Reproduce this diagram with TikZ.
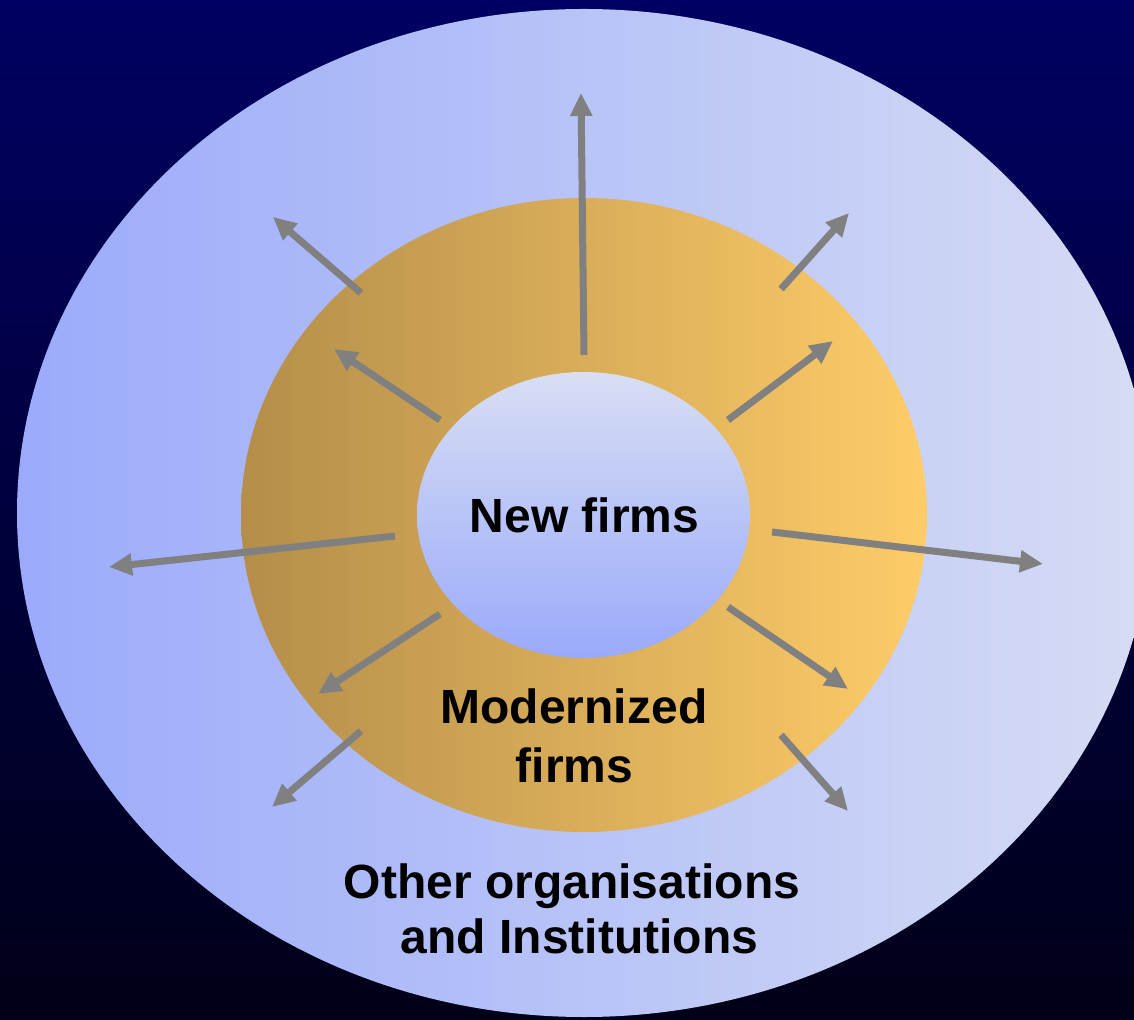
\documentclass[tikz,border=0pt]{standalone}
\usepackage{fontspec}
\setmainfont{Liberation Sans}
\usetikzlibrary{shapes.geometric,arrows.meta}
\definecolor{bgtop}{RGB}{0,0,98}
\definecolor{bgbot}{RGB}{0,0,24}
\definecolor{outL}{RGB}{155,171,250}
\definecolor{outR}{RGB}{214,220,244}
\definecolor{orL}{RGB}{180,142,74}
\definecolor{orR}{RGB}{254,204,104}
\definecolor{inT}{RGB}{216,222,244}
\definecolor{inB}{RGB}{154,170,250}
\definecolor{arrgray}{RGB}{128,128,128}
\begin{document}
\begin{tikzpicture}[x=0.5pt,y=-0.5pt,
  blob/.style={ellipse, draw=none, inner sep=0pt, outer sep=0pt},
  lbl/.style={anchor=base, inner sep=0pt, text=black, font=\fontsize{24}{29}\selectfont\bfseries},
  outarrow/.style={draw=arrgray, line width=3.5pt, -{Triangle[length=11.5pt,width=10.5pt]}}]
\useasboundingbox (0,0) rectangle (1134,1020);
\clip (0,0) rectangle (1134,1020);
\shade[top color=bgtop, bottom color=bgbot] (0,0) rectangle (1134,1020);
% ellipses
\node[blob, minimum width=567pt, minimum height=504pt, left color=outL, right color=outR] (outer) at (584,513) {};
\node[blob, minimum width=343pt, minimum height=317pt, left color=orL, right color=orR] (modern) at (584,515) {};
\node[blob, minimum width=166.5pt, minimum height=143pt, top color=inT, bottom color=inB] (inner) at (583.5,515) {};
% arrow end points
\coordinate (a1s) at (584,355);  \coordinate (a1e) at (581,93);
\coordinate (a2s) at (361,293);  \coordinate (a2e) at (273,217);
\coordinate (a3s) at (781,289);  \coordinate (a3e) at (849,213);
\coordinate (a4s) at (440,420);  \coordinate (a4e) at (334,349);
\coordinate (a5s) at (728,420);  \coordinate (a5e) at (833,341);
\coordinate (a6s) at (395,536);  \coordinate (a6e) at (109,567);
\coordinate (a7s) at (772,532);  \coordinate (a7e) at (1043,564);
\coordinate (a8s) at (440,614);  \coordinate (a8e) at (318,694);
\coordinate (a9s) at (728,607);  \coordinate (a9e) at (848,689);
\coordinate (a10s) at (361,731); \coordinate (a10e) at (272,807);
\coordinate (a11s) at (781,735); \coordinate (a11e) at (848,811);
\foreach \i in {1,...,11}{\draw[outarrow] (a\i s) -- (a\i e);}
% labels
\node[lbl] (newfirms) at (584.5,533) {New firms};
\node[lbl] (mod1) at (574,723) {Modernized};
\node[lbl] (mod2) at (574.5,782) {firms};
\node[lbl] (oth1) at (572,898) {Other organisations};
\node[lbl] (oth2) at (579.5,953) {and Institutions};
\end{tikzpicture}
\end{document}
